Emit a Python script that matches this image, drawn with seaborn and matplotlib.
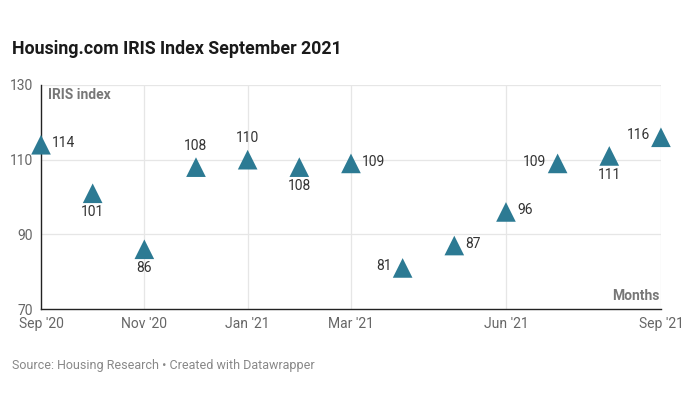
import matplotlib
matplotlib.use("Agg")
import matplotlib.pyplot as plt
import pandas as pd
import seaborn as sns

sns.set_theme(style="white")
plt.rcParams["font.family"] = ["Roboto", "DejaVu Sans"]

# data
months = ["Sep '20", "Oct '20", "Nov '20", "Dec '20", "Jan '21", "Feb '21", "Mar '21",
          "Apr '21", "May '21", "Jun '21", "Jul '21", "Aug '21", "Sep '21"]
iris = [114, 101, 86, 108, 110, 108, 109, 81, 87, 96, 109, 111, 116]
label_pos = ["right", "below", "below", "above", "above", "below", "right",
             "left", "right", "right", "left", "below", "left"]
tick_idx = [0, 2, 4, 6, 9, 12]
y_ticks = [70, 90, 110, 130]

df = pd.DataFrame({"idx": range(len(months)), "month": months, "iris": iris})

fig = plt.figure(figsize=(6.95, 4.0), dpi=100)
ax = fig.add_axes([0.059, 0.2275, 0.892, 0.56])

ax.set_xlim(0, len(months) - 1)
ax.set_ylim(70, 130)

# grid
for t in y_ticks[1:]:
    ax.axhline(t, color="#e6e6e6", lw=0.9, zorder=0)
for t in tick_idx[1:]:
    ax.axvline(t, color="#e6e6e6", lw=0.9, zorder=0)

sns.scatterplot(data=df, x="idx", y="iris", marker="^", s=200, color="#2c7a93",
                edgecolor="none", ax=ax, zorder=3, clip_on=False, legend=False)

offsets = {"right": ((8, 0), "left", "center"),
           "left": ((-8, 0), "right", "center"),
           "above": ((0, 9), "center", "bottom"),
           "below": ((0, -10), "center", "top")}
for i, (v, p) in enumerate(zip(iris, label_pos)):
    off, ha, va = offsets[p]
    ax.annotate(str(v), (i, v + 0.5), xytext=off, textcoords="offset points",
                ha=ha, va=va, fontsize=10, color="#333333")

for s in ["top", "right"]:
    ax.spines[s].set_visible(False)
for s in ["left", "bottom"]:
    ax.spines[s].set_color("#222222")
    ax.spines[s].set_linewidth(1.0)

ax.set_xticks(tick_idx)
ax.set_xticklabels([months[i] for i in tick_idx], fontsize=10, color="#666666")
ax.set_yticks(y_ticks)
ax.set_yticklabels([str(t) for t in y_ticks], fontsize=10, color="#666666")
ax.tick_params(axis="x", length=0, pad=6)
ax.tick_params(axis="y", length=0, pad=6)
ax.set_xlabel("")
ax.set_ylabel("")

ax.text(0.012, 0.985, "IRIS index", transform=ax.transAxes, ha="left", va="top",
        fontsize=10, fontweight="bold", color="#777777")
ax.text(0.998, 0.025, "Months", transform=ax.transAxes, ha="right", va="bottom",
        fontsize=10, fontweight="bold", color="#777777")

fig.text(0.017, 0.878, "Housing.com IRIS Index September 2021", ha="left", va="center",
         fontsize=12.8, fontweight="bold", color="#1a1a1a")
fig.text(0.017, 0.085, "Source: Housing Research \u2022 Created with Datawrapper",
         ha="left", va="center", fontsize=9, color="#888888")

fig.savefig("out.png", dpi=100)
